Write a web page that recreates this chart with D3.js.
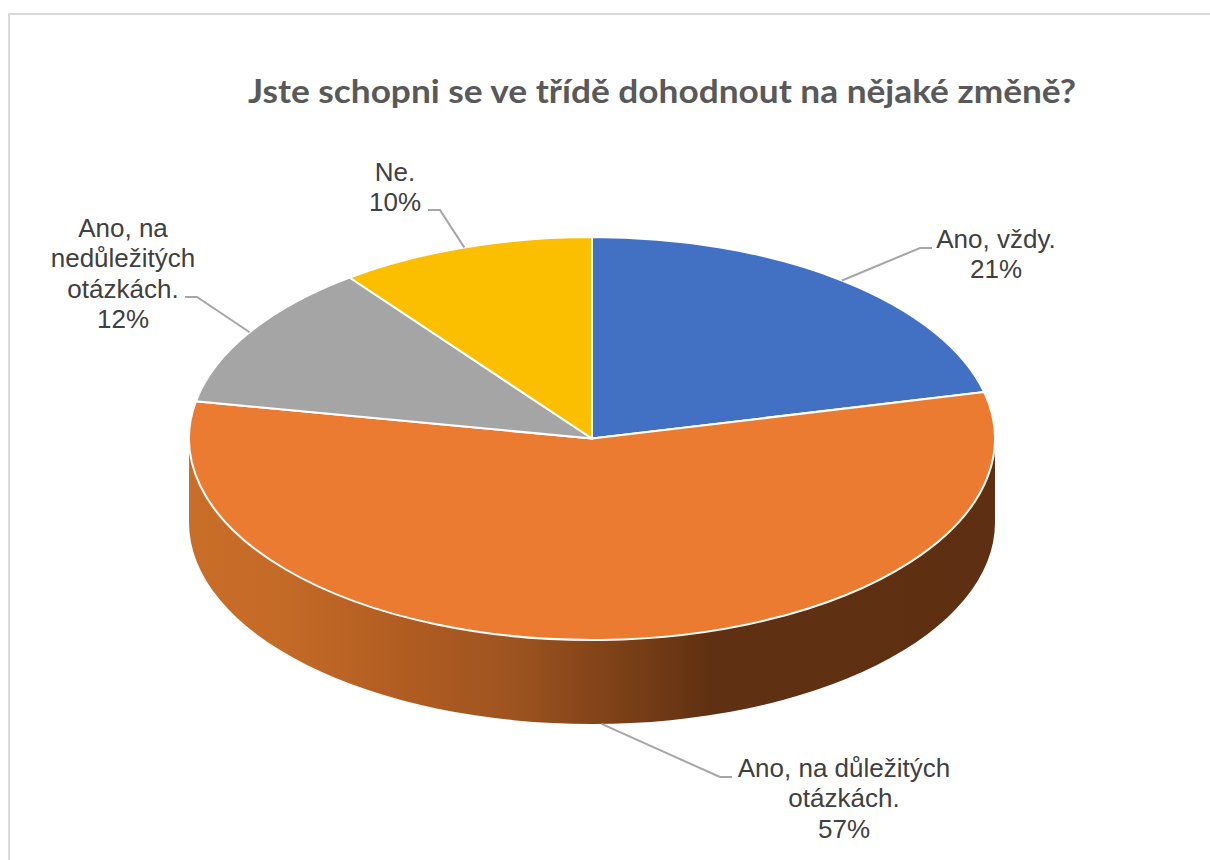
<!DOCTYPE html>
<html>
<head>
<meta charset="utf-8">
<style>
  html, body { margin: 0; padding: 0; background: #fff; overflow: hidden; }
  svg { display: block; }
  .label { font-family: "Liberation Sans", Arial, sans-serif; font-size: 26px; fill: #404040; text-anchor: middle; }
  .title { font-family: Lato, "Open Sans", sans-serif; font-size: 32px; font-weight: 700; fill: #595959; }
</style>
</head>
<body>
<script src="https://cdn.jsdelivr.net/npm/d3@7"></script>
<script>
var titleText = "Jste schopni se ve třídě dohodnout na nějaké změně?";
var categories = ["Ano, vždy.", "Ano, na důležitých otázkách.", "Ano, na nedůležitých otázkách.", "Ne."];
var values = [21.3, 56.65, 11.78, 10.27];
var percentLabels = ["21%", "57%", "12%", "10%"];
var labelLines = [
    ["Ano, vždy."],
    ["Ano, na důležitých", "otázkách."],
    ["Ano, na", "nedůležitých", "otázkách."],
    ["Ne."]
];
var sliceColors = ["#4270C2", "#EB7B30", "#A5A5A5", "#FBBF00"];

// layout
var width = 1210, height = 860;
var cx = 592, cy = 438.5, rx = 403, ry = 201.5, depth = 84;
var labelX = [996, 844, 123, 395];
var labelTop = [248, 777, 237, 181];
var lineGap = 30.4;
// leader elbow and end, one per slice
var elbowX = [920, 720, 197, 440], elbowY = [248, 777, 297, 210];
var leaderEndX = [932, 732, 185, 428];

var svg = d3.select("body").append("svg")
    .attr("width", width)
    .attr("height", height);

// chart frame, runs off the right and the bottom
svg.append("rect")
    .attr("x", 9).attr("y", 14)
    .attr("width", width + 20).attr("height", height + 20)
    .attr("fill", "#fff")
    .attr("stroke", "#D9D9D9")
    .attr("stroke-width", 2);

svg.append("text")
    .attr("class", "title")
    .attr("x", 248)
    .attr("y", 103)
    .attr("textLength", 828)
    .attr("lengthAdjust", "spacingAndGlyphs")
    .text(titleText);

// side wall shading
var grad = svg.append("defs").append("linearGradient")
    .attr("id", "wall")
    .attr("gradientUnits", "userSpaceOnUse")
    .attr("x1", cx - rx).attr("x2", cx + rx)
    .attr("y1", 0).attr("y2", 0);
[[0, "#C96E29"], [0.12, "#C46A27"], [0.27, "#B05C21"], [0.4, "#9E5420"], [0.5, "#854519"], [0.6, "#6C3714"], [0.646, "#5F3011"], [1, "#5E2F12"]]
    .forEach(function(s) {
        grad.append("stop").attr("offset", s[0]).attr("stop-color", s[1]);
    });

svg.append("path")
    .attr("d", `M${cx - rx},${cy} A${rx},${ry} 0 0 0 ${cx + rx},${cy} L${cx + rx},${cy + depth} A${rx},${ry} 0 0 1 ${cx - rx},${cy + depth} Z`)
    .attr("fill", "url(#wall)");

// top of the pie, a flat pie squashed into an ellipse
var pie = d3.pie().sort(null)(values);
var arc = d3.arc().innerRadius(0).outerRadius(rx);

svg.append("g")
    .attr("transform", `translate(${cx},${cy}) scale(1,${ry / rx})`)
    .selectAll("path")
    .data(pie)
    .join("path")
    .attr("d", arc)
    .attr("fill", function(d, i) { return sliceColors[i]; })
    .attr("stroke", "#fff")
    .attr("stroke-width", 2)
    .attr("vector-effect", "non-scaling-stroke");

// leader lines start on the rim at the middle of each slice
function rimPoint(d) {
    var a = (d.startAngle + d.endAngle) / 2;
    var y = cy - Math.cos(a) * ry;
    if (Math.cos(a) < 0) y += depth;
    return [cx + Math.sin(a) * rx, y];
}

svg.append("g")
    .selectAll("path")
    .data(pie)
    .join("path")
    .attr("d", function(d, i) {
        return d3.line()([rimPoint(d), [elbowX[i], elbowY[i]], [leaderEndX[i], elbowY[i]]]);
    })
    .attr("fill", "none")
    .attr("stroke", "#A6A6A6")
    .attr("stroke-width", 2);

// labels
var labels = svg.append("g")
    .selectAll("text")
    .data(categories)
    .join("text")
    .attr("class", "label")
    .attr("y", function(d, i) { return labelTop[i]; });

labels.each(function(d, i) {
    var lines = labelLines[i].concat(percentLabels[i]);
    d3.select(this).selectAll("tspan")
        .data(lines)
        .join("tspan")
        .attr("x", labelX[i])
        .attr("y", function(l, j) { return labelTop[i] + j * lineGap; })
        .text(function(l) { return l; });
});
</script>
</body>
</html>
